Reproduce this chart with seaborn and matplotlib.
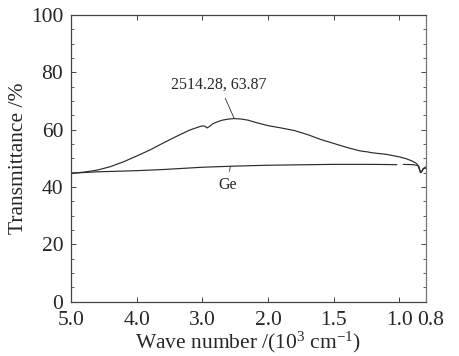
import numpy as np
import pandas as pd
import matplotlib
matplotlib.use("Agg")
import matplotlib.pyplot as plt
from matplotlib.ticker import MultipleLocator, FixedLocator
from matplotlib.transforms import ScaledTranslation
import seaborn as sns

# Sample film transmittance (wavenumber in cm^-1, transmittance in %)
film_wn = [5000, 4800, 4600, 4400, 4200, 4000, 3800, 3600, 3400, 3200, 3050,
           3000, 2960, 2930, 2900, 2850, 2800, 2700, 2600, 2514.28, 2400, 2300,
           2200, 2100, 2000, 1900, 1800, 1700, 1600, 1500, 1400, 1300, 1250,
           1200, 1100, 1000, 950, 900, 870, 850, 840, 830, 815, 800]
film_t = [44.8, 45.2, 45.9, 47.1, 48.8, 50.8, 52.9, 55.3, 57.6, 59.8, 61.0,
          61.3, 61.2, 60.6, 61.0, 61.9, 62.5, 63.3, 63.7, 63.87, 63.7, 63.3,
          62.6, 62.0, 61.4, 60.6, 59.7, 58.3, 56.6, 55.2, 53.8, 52.6, 52.3,
          51.9, 51.4, 50.5, 49.9, 49.0, 48.2, 47.0, 45.0, 45.4, 46.5, 46.5]

# Ge substrate, two segments (gap in the recorded trace near 1000 cm^-1)
ge_wn_a = [5000, 4600, 4000, 3600, 3000, 2500, 2000, 1500, 1200, 1020]
ge_t_a = [44.8, 45.3, 45.7, 46.1, 46.9, 47.3, 47.6, 47.9, 47.9, 47.8]
ge_wn_b = [970, 900, 860, 848, 840, 832, 820, 800]
ge_t_b = [47.9, 47.8, 47.5, 46.2, 45.3, 45.2, 46.4, 47.0]

xticks = [5000, 4000, 3000, 2000, 1500, 1000, 800]
xticklabels = ["5.0", "4.0", "3.0", "2.0", "1.5", "1.0", "0.8"]

peak_wn, peak_t = 2514.28, 63.87


def fwd(w):
    w = np.asarray(w, dtype=float)
    return np.where(w >= 2000, w, 2 * w - 2000)


def inv(p):
    p = np.asarray(p, dtype=float)
    return np.where(p >= 2000, p, (p + 2000) / 2)


film = pd.DataFrame({"wn": film_wn, "T": film_t, "seg": 0})
ge = pd.concat([
    pd.DataFrame({"wn": ge_wn_a, "T": ge_t_a, "seg": 1}),
    pd.DataFrame({"wn": ge_wn_b, "T": ge_t_b, "seg": 2}),
])

sns.set_style("ticks")
plt.rcParams["font.family"] = ["Liberation Serif", "DejaVu Serif"]
plt.rcParams["mathtext.fontset"] = "custom"
plt.rcParams["mathtext.rm"] = "Liberation Serif"
plt.rcParams["mathtext.it"] = "Liberation Serif:italic"

fig = plt.figure(figsize=(4.6, 3.56), dpi=100)
ax = fig.add_axes([0.1543, 0.1525, 0.7711, 0.8054])

line_col = "#2b2b2b"
sns.lineplot(data=film, x="wn", y="T", units="seg", estimator=None,
             color=line_col, lw=0.85, ax=ax)
sns.lineplot(data=ge, x="wn", y="T", units="seg", estimator=None,
             color=line_col, lw=0.85, ax=ax)

ax.set_xscale("function", functions=(fwd, inv))
ax.set_xlim(5000, 800)
ax.set_ylim(0, 100)
ax.xaxis.set_major_locator(FixedLocator(xticks))
ax.set_xticklabels(xticklabels)
ax.xaxis.set_minor_locator(FixedLocator([]))
ax.yaxis.set_major_locator(MultipleLocator(20))
ax.yaxis.set_minor_locator(MultipleLocator(5))

ax.tick_params(which="both", direction="in", top=True, right=True,
               color="#444444", labelsize=15.5)
ax.tick_params(axis="x", pad=6.5)
ax.tick_params(axis="y", pad=5.5)
ax.tick_params(which="major", length=3.5, width=0.7)
ax.tick_params(which="minor", length=2.5, width=0.6)
for s in ax.spines.values():
    s.set_color("#444444")
    s.set_linewidth(0.9)
ax.spines["right"].set_color("#777777")

# nudge the crowded last tick label to the right as in the original
last = ax.get_xticklabels()[-1]
last.set_transform(last.get_transform() + ScaledTranslation(5 / 100, 0, fig.dpi_scale_trans))

ax.set_xlabel(r"Wave number /(10$^{3}$ cm$^{-1}$)", fontsize=15.5, labelpad=0)
ax.set_ylabel("Transmittance /%", fontsize=15.5, labelpad=2)

ax.annotate(f"{peak_wn:.2f}, {peak_t:.2f}", xy=(peak_wn, peak_t),
            xytext=(2745, 75.8), ha="center", va="center", fontsize=11.5,
            arrowprops=dict(arrowstyle="-", lw=0.6, color=line_col,
                            shrinkA=2, shrinkB=0))
ax.annotate("Ge", xy=(2575, 47.1), xytext=(2622, 40.6), ha="center",
            va="center", fontsize=11.5,
            arrowprops=dict(arrowstyle="-", lw=0.6, color=line_col,
                            shrinkA=2, shrinkB=0))

fig.savefig("out.png", dpi=100)
